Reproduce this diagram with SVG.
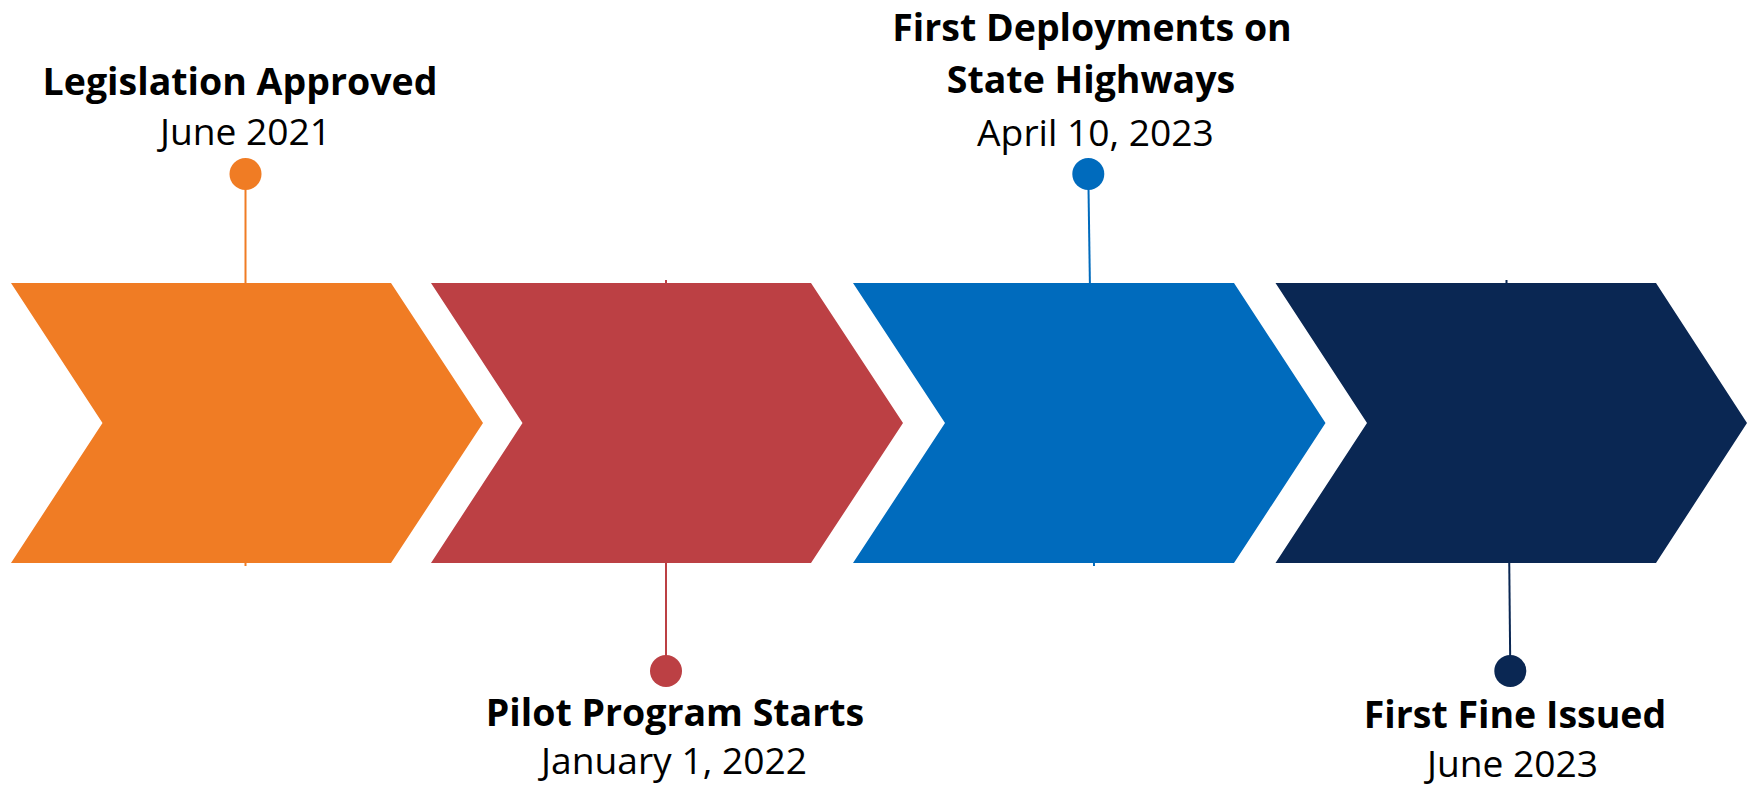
<svg xmlns="http://www.w3.org/2000/svg" width="1747" height="785" viewBox="0 0 1747 785">
<style>
.t{font-family:"Open Sans","Liberation Sans",sans-serif;font-weight:700;font-size:37.5px;fill:#000;text-anchor:middle}
.d{font-family:"Open Sans","Liberation Sans",sans-serif;font-weight:400;font-size:37.2px;fill:#000;text-anchor:middle}
.ln{stroke-width:2;fill:none}
</style>
<rect width="1747" height="785" fill="#fff"/>
<g id="connectors">
<line class="ln" x1="245.5" y1="174" x2="245.5" y2="566" stroke="#F07C24"/>
<line class="ln" x1="666" y1="280" x2="666" y2="671" stroke="#BC4044"/>
<line class="ln" x1="1088.3" y1="174" x2="1094" y2="566" stroke="#006BBD"/>
<line class="ln" x1="1506.5" y1="280" x2="1510.3" y2="671" stroke="#0A2753"/>
</g>
<g id="step1">
<polygon points="11,283 391,283 483,423 391,563 11,563 102.5,423" fill="#F07C24"/>
<circle cx="245.5" cy="174" r="16" fill="#F07C24"/>
<text class="t" x="240" y="95">Legislation Approved</text>
<text class="d" x="245.5" y="145">June 2021</text>
</g>
<g id="step2">
<polygon points="431,283 811,283 903,423 811,563 431,563 522.5,423" fill="#BC4044"/>
<circle cx="666" cy="671" r="16" fill="#BC4044"/>
<text class="t" x="675" y="726">Pilot Program Starts</text>
<text class="d" x="674" y="774">January 1, 2022</text>
</g>
<g id="step3">
<polygon points="853,283 1234,283 1325.5,423 1234,563 853,563 945,423" fill="#006BBD"/>
<circle cx="1088.3" cy="174" r="16" fill="#006BBD"/>
<text class="t" x="1092" y="41">First Deployments on</text>
<text class="t" x="1091" y="93">State Highways</text>
<text class="d" x="1095.5" y="146">April 10, 2023</text>
</g>
<g id="step4">
<polygon points="1275.5,283 1656,283 1747,423 1656,563 1275.5,563 1367,423" fill="#0A2753"/>
<circle cx="1510.3" cy="671" r="16" fill="#0A2753"/>
<text class="t" x="1515" y="727.5">First Fine Issued</text>
<text class="d" x="1512.5" y="776.5">June 2023</text>
</g>
</svg>
